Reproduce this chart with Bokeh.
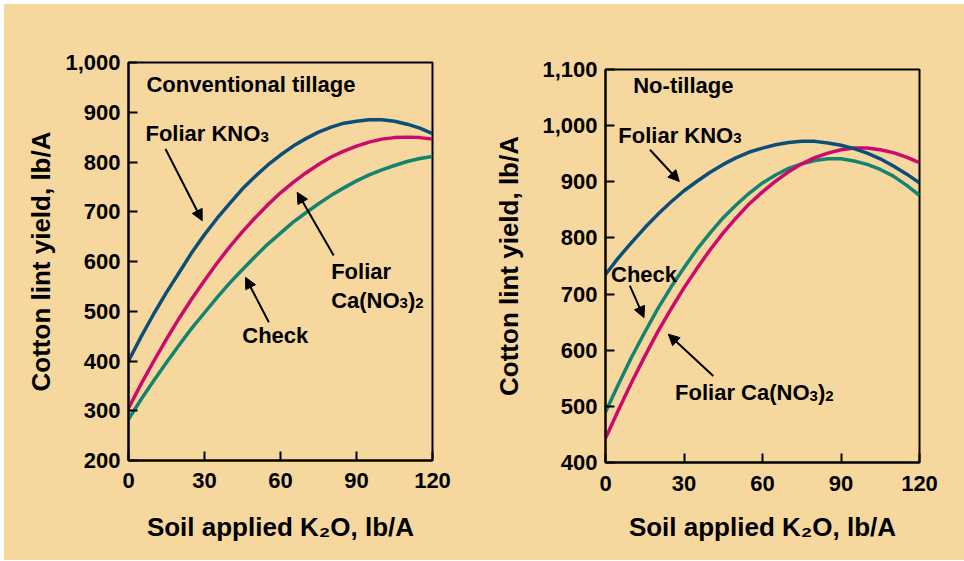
from bokeh.plotting import figure
from bokeh.layouts import row, column
from bokeh.models import FixedTicker, NumeralTickFormatter, Range1d, Label, Arrow, NormalHead
from bokeh.embed import file_html
from bokeh.resources import INLINE

# ---------------- data ----------------
k2o = [0, 5, 10, 15, 20, 25, 30, 35, 40, 45, 50, 55, 60,
       65, 70, 75, 80, 85, 90, 95, 100, 105, 110, 115, 120]

conv_kno3 = [400, 449, 495, 538, 578, 618, 654, 687, 717, 746, 771, 794, 814,
             832, 847, 860, 870, 878, 882, 885, 885, 882, 876, 868, 857]
conv_cano3 = [305, 354, 400, 444, 486, 525, 562, 597, 630, 660, 688, 714, 738,
              759, 778, 795, 810, 822, 832, 840, 846, 849, 850, 849, 846]
conv_check = [283, 323, 361, 397, 432, 466, 497, 528, 557, 584, 610, 635, 657,
              679, 698, 716, 733, 748, 762, 774, 784, 793, 801, 807, 811]

nt_kno3 = [735, 765, 792, 818, 842, 864, 884, 901, 917, 931, 943, 953, 960,
           966, 970, 972, 972, 969, 965, 959, 951, 941, 928, 914, 898]
nt_cano3 = [443, 494, 543, 589, 633, 673, 711, 746, 779, 809, 836, 861, 882,
            901, 918, 932, 943, 951, 957, 960, 960, 957, 952, 944, 934]
nt_check = [490, 540, 588, 632, 674, 712, 747, 780, 809, 836, 859, 880, 898,
            912, 924, 932, 938, 941, 941, 937, 931, 922, 910, 894, 876]

x_ticks = [0, 30, 60, 90, 120]
conv_y_ticks = [200, 300, 400, 500, 600, 700, 800, 900, 1000]
nt_y_ticks = [400, 500, 600, 700, 800, 900, 1000, 1100]

# ---------------- style ----------------
BG = "#F6D89E"
FONT = "Liberation Sans"
C_KNO3 = "#0B4F79"
C_CANO3 = "#CC0A6E"
C_CHECK = "#14836F"
MAIN_SIZE = 22
SUB_SIZE = 15
LABEL_RAISE = 8

# Arial/Liberation Sans Bold advance widths (per 1000 em)
ADV = {' ': 278, '(': 333, ')': 333, ',': 278, '-': 333, '/': 278,
       'A': 722, 'C': 722, 'F': 611, 'K': 722, 'N': 722, 'O': 778, 'S': 667,
       'a': 556, 'b': 611, 'c': 556, 'd': 611, 'e': 556, 'g': 611, 'h': 611,
       'i': 278, 'k': 556, 'l': 278, 'n': 611, 'o': 611, 'p': 611, 'r': 389,
       't': 333, 'v': 556, 'y': 556}


def text_width(s, size):
    return sum(ADV.get(c, 556) for c in s) * size / 1000.0


def make_panel(width, y_start, y_end, y_ticks, series, borders,
               ylab_standoff, xlab_standoff, tick_standoff_x):
    left, right, top, bottom = borders
    p = figure(width=width, height=556, output_backend="svg", toolbar_location=None,
               x_range=Range1d(0, 120), y_range=Range1d(y_start, y_end),
               min_border_left=left, min_border_right=right,
               min_border_top=top, min_border_bottom=bottom,
               background_fill_color=BG, border_fill_color=BG)
    p.xgrid.visible = False
    p.ygrid.visible = False
    p.outline_line_color = "black"
    p.outline_line_width = 2
    p.outline_line_alpha = 1

    p.xaxis.ticker = FixedTicker(ticks=x_ticks)
    p.yaxis.ticker = FixedTicker(ticks=y_ticks)
    p.yaxis.formatter = NumeralTickFormatter(format="0,0")
    for ax in (p.xaxis[0], p.yaxis[0]):
        ax.axis_line_width = 2
        ax.axis_line_color = "black"
        ax.major_tick_line_width = 2
        ax.major_tick_line_color = "black"
        ax.major_tick_in = 9
        ax.major_tick_out = 0
        ax.minor_tick_line_color = None
        ax.major_label_text_font = FONT
        ax.major_label_text_font_style = "bold"
        ax.major_label_text_font_size = "22px"
        ax.major_label_text_color = "black"
        ax.axis_label_text_font = FONT
        ax.axis_label_text_font_style = "bold"
        ax.axis_label_text_font_size = "26px"
        ax.axis_label_text_color = "black"
    p.yaxis.major_label_standoff = 8
    p.xaxis.major_label_standoff = tick_standoff_x
    p.yaxis.axis_label = "Cotton lint yield, lb/A"
    p.xaxis.axis_label = "Soil applied K\u2082O, lb/A"
    p.yaxis.axis_label_standoff = ylab_standoff
    p.xaxis.axis_label_standoff = xlab_standoff

    for ys, col in series:
        p.line(k2o, ys, line_color=col, line_width=3.5, line_join="round")
    return p


def add_label(p, x, y, segments):
    """segments: list of (text, is_subscript)"""
    off = 0.0
    for txt, sub in segments:
        size = SUB_SIZE if sub else MAIN_SIZE
        p.add_layout(Label(x=x, y=y, x_offset=off,
                           y_offset=LABEL_RAISE + (-3 if sub else 0),
                           text=txt, text_font=FONT, text_font_style="bold",
                           text_font_size=f"{size}px", text_color="black",
                           text_align="left", text_baseline="alphabetic"))
        off += text_width(txt, size)


def add_arrow(p, x0, y0, x1, y1):
    p.add_layout(Arrow(end=NormalHead(size=11, fill_color="black", line_color="black", line_width=1),
                       x_start=x0, y_start=y0, x_end=x1, y_end=y1,
                       line_color="black", line_width=2))


KNO3 = [("Foliar KNO", False), ("3", True)]
CANO3 = [("Ca(NO", False), ("3", True), (")", False), ("2", True)]
FCANO3 = [("Foliar Ca(NO", False), ("3", True), (")", False), ("2", True)]

# Left panel: conventional tillage
p1 = make_panel(478, 200, 1000, conv_y_ticks,
                [(conv_check, C_CHECK), (conv_cano3, C_CANO3), (conv_kno3, C_KNO3)],
                (124, 50, 58, 100), ylab_standoff=6, xlab_standoff=21, tick_standoff_x=12)
add_label(p1, 7.1, 939, [("Conventional tillage", False)])
add_label(p1, 6.7, 841, KNO3)
add_label(p1, 80.0, 564, [("Foliar", False)])
add_label(p1, 80.0, 506, CANO3)
add_label(p1, 44.9, 435, [("Check", False)])
add_arrow(p1, 14.6, 826, 29.1, 682)
add_arrow(p1, 81.0, 612, 66.6, 739)
add_arrow(p1, 55.4, 478, 46.2, 568)

# Right panel: no-tillage
p2 = make_panel(482, 400, 1100, nt_y_ticks,
                [(nt_check, C_CHECK), (nt_cano3, C_CANO3), (nt_kno3, C_KNO3)],
                (123, 45, 65, 98), ylab_standoff=15, xlab_standoff=18, tick_standoff_x=13)
add_label(p2, 10.6, 1058, [("No-tillage", False)])
add_label(p2, 4.9, 969, KNO3)
add_label(p2, 2.1, 721, [("Check", False)])
add_label(p2, 26.6, 510, FCANO3)
add_arrow(p2, 17.0, 957, 28.2, 900.5)
add_arrow(p2, 9.3, 715, 14.7, 658)
add_arrow(p2, 41.2, 554, 24.0, 628.5)

layout = row(column(p1, styles={"background-color": BG}),
             column(p2, styles={"background-color": BG}),
             spacing=0, margin=(4, 0, 0, 4), styles={"background-color": BG})
open("out.html", "w").write(file_html(layout, INLINE))
